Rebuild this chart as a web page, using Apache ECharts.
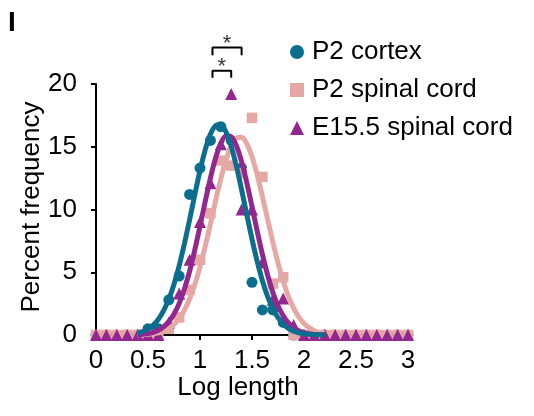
<!DOCTYPE html>
<html>
<head>
<meta charset="utf-8">
<script src="https://cdn.jsdelivr.net/npm/echarts@6/dist/echarts.min.js"></script>
<style>
  html, body { margin: 0; padding: 0; background: #fff; }
  #chart { width: 534px; height: 416px; }
</style>
</head>
<body>
<div id="chart"></div>
<script>
// bins (log length)
var bins = [0, 0.1, 0.2, 0.3, 0.4, 0.5, 0.6, 0.7, 0.8, 0.9, 1.0, 1.1, 1.2, 1.3, 1.4, 1.5,
  1.6, 1.7, 1.8, 1.9, 2.0, 2.1, 2.2, 2.3, 2.4, 2.5, 2.6, 2.7, 2.8, 2.9, 3.0];

// percent frequency per bin
var cortexP2 = [0, 0, 0, 0, 0, 0.5, 0.5, 2.8, 4.7, 11.2, 13.3, 15.5, 16.6, 15.5, 13.3, 4.2,
  2.0, 2.0, 1.0, 0, 0, 0, 0, 0, 0, 0, 0, 0, 0, 0, 0];
var spinalP2 = [0, 0, 0, 0, 0, 0, 0, 0.5, 1.4, 3.6, 6.0, 9.7, 13.9, 13.5, 12.9, 17.3,
  12.6, 4.1, 4.6, 0, 0, 0, 0, 0, 0, 0, 0, 0, 0, 0, 0];
var spinalE155 = [0, 0, 0, 0, 0, 0, 0, 1.0, 3.3, 6.0, 9.0, 12.1, 15.2, 19.2, 10.0, 10.0,
  5.8, 2.8, 2.9, 0.8, 0, 0, 0, 0, 0, 0, 0, 0, 0, 0, 0];

// fitted curves
var fitX = [0.40, 0.45, 0.50, 0.55, 0.60, 0.65, 0.70, 0.75, 0.80, 0.85, 0.90, 0.95, 1.00,
  1.05, 1.10, 1.15, 1.20, 1.25, 1.30, 1.35, 1.40, 1.45, 1.50, 1.55, 1.60, 1.65, 1.70,
  1.75, 1.80, 1.85, 1.90, 1.95, 2.00, 2.05, 2.10, 2.15, 2.20];
var fitCortex = [0.16, 0.28, 0.48, 0.79, 1.26, 1.94, 2.86, 4.05, 5.53, 7.27, 9.19, 11.18, 13.10,
  14.75, 15.99, 16.68, 16.75, 16.18, 15.04, 13.45, 11.58, 9.59, 7.64, 5.86, 4.32, 3.07, 2.10,
  1.38, 0.87, 0.53, 0.31, 0.18, 0.10, 0.05, 0.03, 0.01, 0.01];
var fitSpinalP2 = [0.02, 0.03, 0.06, 0.10, 0.18, 0.31, 0.52, 0.84, 1.31, 1.98, 2.87, 4.02, 5.43,
  7.06, 8.85, 10.69, 12.43, 13.94, 15.07, 15.70, 15.75, 15.24, 14.20, 12.76, 11.04, 9.22, 7.41,
  5.74, 4.28, 3.08, 2.14, 1.43, 0.92, 0.57, 0.34, 0.20, 0.11];
var fitE155 = [0.03, 0.06, 0.11, 0.21, 0.38, 0.65, 1.06, 1.67, 2.52, 3.66, 5.08, 6.78, 8.66,
  10.63, 12.50, 14.10, 15.26, 15.85, 15.78, 15.08, 13.81, 12.14, 10.23, 8.28, 6.42, 4.78, 3.40,
  2.33, 1.53, 0.96, 0.58, 0.34, 0.19, 0.10, 0.05, 0.03, 0.01];

// significance brackets [x, y]
var bracketTop = [[1.12, 22.3], [1.12, 22.9], [1.40, 22.9], [1.40, 22.3]];
var bracketLow = [[1.12, 20.5], [1.12, 21.06], [1.30, 21.06], [1.30, 20.5]];
var stars = [[1.26, 22.9], [1.21, 21.06]];

var names = ['P2 cortex', 'P2 spinal cord', 'E15.5 spinal cord'];
var colors = ['#0b6e8f', '#e6a8a4', '#92278f'];
var FONT = '"Liberation Sans", Arial, Helvetica, sans-serif';

function pairs(xs, ys) {
  var out = [];
  for (var i = 0; i < xs.length; i++) out.push([xs[i], ys[i]]);
  return out;
}

function fitSeries(name, xs, ys, color) {
  return {
    name: name, type: 'line', data: pairs(xs, ys), smooth: 0.3,
    symbol: 'none', clip: false,
    lineStyle: { color: color, width: 5 }
  };
}

function dotSeries(name, ys, color, symbol, size) {
  return {
    name: name, type: 'scatter', data: pairs(bins, ys),
    symbol: symbol, symbolSize: size,
    itemStyle: { color: color, opacity: 1 }
  };
}

function bracketSeries(data) {
  return {
    name: 'bracket', type: 'line', data: data, clip: false, symbol: 'none',
    lineStyle: { color: '#000', width: 2 }, z: 5
  };
}

var chart = echarts.init(document.getElementById('chart'), null, { renderer: 'canvas' });

var option = {
  animation: false,
  backgroundColor: '#fff',
  grid: { left: 96, right: 126, top: 84, bottom: 81 },
  legend: {
    orient: 'vertical',
    left: 285, top: 34,
    itemGap: 12,
    itemWidth: 14, itemHeight: 14,
    selectedMode: false,
    data: names,
    textStyle: { fontFamily: FONT, fontSize: 26, color: '#000', padding: [0, 0, 0, 3] }
  },
  xAxis: {
    type: 'value', min: 0, max: 3, interval: 0.5,
    splitLine: { show: false },
    axisLine: { lineStyle: { color: '#000', width: 2 } },
    axisTick: { length: 5, lineStyle: { color: '#000', width: 2 } },
    axisLabel: { fontFamily: FONT, fontSize: 26, color: '#000', margin: 13 }
  },
  yAxis: {
    type: 'value', min: 0, max: 20, interval: 5, offset: 4,
    splitLine: { show: false },
    axisLine: { show: true, lineStyle: { color: '#000', width: 2 } },
    axisTick: { show: true, length: 5, lineStyle: { color: '#000', width: 2 } },
    axisLabel: { fontFamily: FONT, fontSize: 26, color: '#000', margin: 15 }
  },
  graphic: [
    { type: 'text', left: 8, top: 9,
      style: { text: 'I', font: 'bold 28px ' + FONT, fill: '#000' } },
    { type: 'text', x: 32, y: 207, rotation: Math.PI / 2,
      style: { text: 'Percent frequency', font: '26px ' + FONT, fill: '#000',
        align: 'center', verticalAlign: 'middle' } },
    { type: 'text', x: 238, y: 388,
      style: { text: 'Log length', font: '26px ' + FONT, fill: '#000',
        align: 'center', verticalAlign: 'middle' } }
  ],
  series: [
    fitSeries('fit spinal P2', fitX, fitSpinalP2, colors[1]),
    fitSeries('fit E15.5', fitX, fitE155, colors[2]),
    fitSeries('fit cortex', fitX, fitCortex, colors[0]),
    dotSeries(names[0], cortexP2, colors[0], 'circle', 11),
    dotSeries(names[1], spinalP2, colors[1], 'rect', 10.5),
    dotSeries(names[2], spinalE155, colors[2], 'triangle', 12),
    bracketSeries(bracketTop),
    bracketSeries(bracketLow),
    {
      name: 'stars', type: 'scatter', data: stars, symbolSize: 2, z: 5, clip: false,
      itemStyle: { color: 'rgba(0,0,0,0)' },
      label: { show: true, formatter: '*', position: 'top', distance: -8,
        fontFamily: FONT, fontSize: 22, color: '#000' }
    }
  ]
};

chart.setOption(option);
</script>
</body>
</html>
